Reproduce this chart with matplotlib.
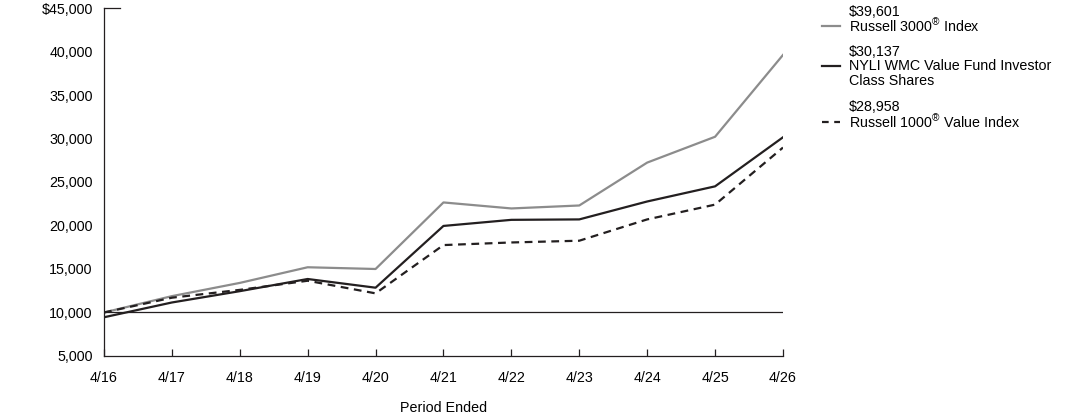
import matplotlib.pyplot as plt
from matplotlib.lines import Line2D

plt.rcParams["font.family"] = ["Liberation Sans", "DejaVu Sans"]
plt.rcParams["mathtext.fontset"] = "custom"
plt.rcParams["mathtext.rm"] = "Liberation Sans"

# Data
periods = ["4/16", "4/17", "4/18", "4/19", "4/20", "4/21", "4/22", "4/23", "4/24", "4/25", "4/26"]
russell_3000 = [10000, 11880, 13400, 15200, 15000, 22650, 21960, 22300, 27230, 30200, 39601]
fund = [9450, 11150, 12450, 13850, 12850, 19950, 20650, 20700, 22760, 24500, 30137]
value_index = [10000, 11700, 12600, 13650, 12200, 17750, 18050, 18250, 20700, 22400, 28958]

y_ticks = [5000, 10000, 15000, 20000, 25000, 30000, 35000, 40000, 45000]
y_labels = ["5,000", "10,000", "15,000", "20,000", "25,000", "30,000", "35,000", "40,000", "$45,000"]

gray = "#8c8c8c"
black = "#231f20"
fs = 10.3

fig = plt.figure(figsize=(10.92, 4.17), dpi=100)
ax = fig.add_axes([0.0952, 0.1463, 0.6218, 0.8345])

x = list(range(len(periods)))
ax.plot(x, russell_3000, color=gray, lw=1.6)
ax.plot(x, fund, color=black, lw=1.6)
ax.plot(x, value_index, color=black, lw=1.6, ls=(0, (3.5, 2.5)))
ax.axhline(10000, color=black, lw=0.9)

ax.set_xlim(0, len(periods) - 1)
ax.set_ylim(5000, 45000)
ax.set_xticks(x)
ax.set_xticklabels(periods)
ax.set_yticks(y_ticks)
ax.set_yticklabels(y_labels)
ax.tick_params(axis="x", direction="in", length=5, width=0.9, color=black, labelsize=fs, pad=11)
ax.tick_params(axis="y", length=0, labelsize=fs, pad=8)
for s in ["top", "right"]:
    ax.spines[s].set_visible(False)
for s in ["left", "bottom"]:
    ax.spines[s].set_linewidth(0.9)
    ax.spines[s].set_color(black)
# short stub at the top of the y axis
ax.plot([0, 0.24], [45000, 45000], color=black, lw=0.9, clip_on=False)

fig.text(0.406, 1 - 408 / 417, "Period Ended", fontsize=fs, ha="center", va="center")

# manual legend
def px(xp, yp):
    return xp / 1092, 1 - yp / 417

legend_items = [
    (26, 12, ["\\$39,601", r"Russell 3000$^{®}$ Index"], dict(color=gray, lw=1.6, ls="-")),
    (66, 52, ["\\$30,137", "NYLI WMC Value Fund Investor", "Class Shares"], dict(color=black, lw=1.6, ls="-")),
    (122, 107, ["\\$28,958", r"Russell 1000$^{®}$ Value Index"], dict(color=black, lw=1.6, ls=(0, (3, 2.5)))),
]
for line_y, top_y, texts, style in legend_items:
    x0, y0 = px(822, line_y)
    x1, _ = px(840, line_y)
    fig.add_artist(Line2D([x0, x1], [y0, y0], transform=fig.transFigure, **style))
    for i, t in enumerate(texts):
        tx, ty = px(849, top_y + i * 14.5)
        fig.text(tx, ty, t, fontsize=fs, ha="left", va="center")

fig.savefig("out.png", dpi=100)
